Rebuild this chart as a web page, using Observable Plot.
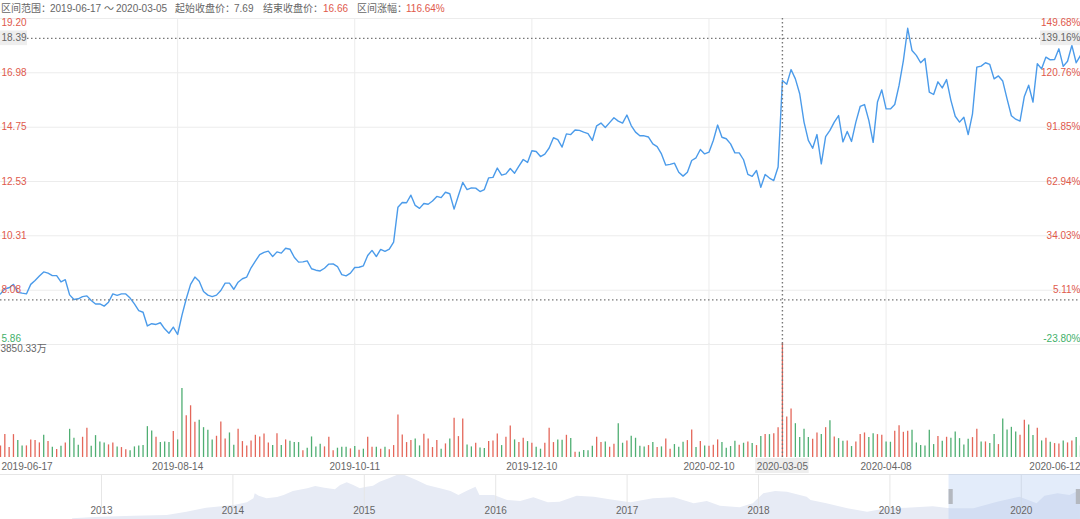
<!DOCTYPE html>
<html>
<head>
<meta charset="utf-8">
<script src="https://cdn.jsdelivr.net/npm/d3@7"></script>
<script src="https://cdn.jsdelivr.net/npm/@observablehq/plot@0.6"></script>
<style>
  html, body { margin: 0; padding: 0; background: #fff; }
  body { width: 1080px; height: 519px; overflow: hidden; position: relative;
         font-family: "Liberation Sans", "Noto Sans CJK SC", sans-serif; }
  .hd { position: absolute; top: 3px; font-size: 10px; line-height: 11px; color: #666; white-space: nowrap; }
  .hd.red { color: #e0594b; }
  .panel { position: absolute; left: 0; }
  .panel svg { display: block; background: transparent; overflow: visible; }
</style>
</head>
<body>
<span class="hd" style="left:1px">区间范围：</span>
<span class="hd" style="left:50px">2019-06-17</span>
<span class="hd" style="left:104px">～</span>
<span class="hd" style="left:116px">2020-03-05</span>
<span class="hd" style="left:175px">起始收盘价：</span>
<span class="hd" style="left:234px">7.69</span>
<span class="hd" style="left:263px">结束收盘价：</span>
<span class="hd red" style="left:323px">16.66</span>
<span class="hd" style="left:357px">区间涨幅：</span>
<span class="hd red" style="left:406px">116.64%</span>
<div id="price" class="panel" style="top:18px"></div>
<div id="volume" class="panel" style="top:342px"></div>
<div id="overview" class="panel" style="top:474px"></div>
<script>
const closePrices = [
7.93,8.14,8.18,8.32,8.00,7.96,7.93,8.32,8.48,8.66,
8.83,8.78,8.68,8.68,8.42,8.51,7.89,7.70,7.73,7.82,
7.85,7.66,7.52,7.52,7.43,7.59,7.93,7.87,7.93,7.93,
7.76,7.52,7.25,7.18,6.62,6.71,6.68,6.75,6.50,6.32,
6.57,6.27,7.05,7.73,8.32,8.62,8.45,8.03,7.88,7.82,
7.88,8.07,8.37,8.37,8.12,8.41,8.55,8.62,9.00,9.27,
9.54,9.63,9.68,9.46,9.65,9.60,9.80,9.76,9.43,9.23,
9.24,9.28,8.96,8.90,8.87,8.98,9.15,9.16,9.05,8.72,
8.67,8.78,9.01,9.02,9.08,9.50,9.71,9.46,9.75,9.67,
9.76,10.05,11.48,11.67,11.66,11.97,11.55,11.43,11.63,11.60,
11.73,11.92,11.87,12.09,12.03,11.40,11.96,12.49,12.20,12.27,
12.26,12.12,12.20,12.68,12.70,13.08,12.79,12.84,13.06,12.87,
13.16,13.43,13.31,13.79,13.76,13.55,13.65,13.90,14.32,14.24,
13.94,14.48,14.45,14.64,14.62,14.55,14.49,14.21,14.81,14.92,
14.74,14.94,15.14,15.00,14.92,15.25,14.82,14.55,14.40,14.40,
14.35,14.07,13.96,13.66,13.20,13.23,13.28,12.91,12.75,12.91,
13.39,13.50,13.84,13.66,13.73,14.21,14.84,14.34,14.28,14.07,
13.70,13.70,13.42,12.82,12.74,12.98,12.29,12.82,12.67,12.57,
13.12,16.66,16.51,17.11,16.73,16.12,14.96,14.21,13.89,14.45,
13.25,14.37,14.62,14.96,15.23,14.15,14.58,14.17,14.96,15.60,
15.68,15.03,14.13,15.78,16.28,15.50,15.50,15.68,16.46,17.48,
18.80,17.89,17.69,17.39,17.56,16.19,16.09,16.61,16.36,16.70,
15.85,15.20,14.96,15.16,14.45,15.30,17.21,17.25,17.39,17.32,
16.73,16.85,16.64,15.91,15.22,15.08,15.00,16.01,16.47,15.78,
17.35,17.14,17.62,17.51,17.52,17.96,17.24,17.45,18.10,17.39,
17.69];
const volumes = [
392,773,336,773,571,392,392,594,571,493,
750,538,347,269,381,493,952,650,414,683,
986,381,739,526,493,426,493,358,336,258,
224,358,392,403,1042,896,683,504,526,504,
874,594,2330,1411,1747,1187,1254,1008,918,594,
717,1198,627,829,414,952,538,392,560,750,
694,795,493,403,806,403,594,549,504,504,
224,314,694,358,448,358,683,224,314,347,
347,291,370,246,280,683,347,347,280,347,
258,403,1434,762,504,571,627,392,784,627,
336,571,280,459,627,1322,706,1299,426,358,
482,325,302,538,560,795,403,683,1064,594,
504,650,538,482,347,280,482,986,504,594,
582,750,638,179,179,235,224,381,683,504,
526,347,448,1142,482,560,717,650,381,358,
403,504,336,358,627,280,437,347,515,571,
930,336,538,392,381,414,594,504,314,370,
549,414,482,526,470,403,706,773,773,806,
1008,3850.33,1366,1635,1142,672,952,672,616,829,
773,1008,1243,694,638,549,560,370,526,773,
829,672,806,773,750,526,515,885,1075,851,
885,918,493,403,392,918,437,706,549,683,
650,862,638,426,616,672,952,526,526,470,
773,437,1299,930,1019,862,750,1254,1098,739,
986,560,650,515,470,459,560,493,560,672,
392];
const volumeDirs = (
"rrrrggrrrr"+"grgrgrgggr"+"rggggrrgrr"+"ggggggrggg"+"rggrrrgggg"+
"rrrggrrrrr"+"rrrgrgrggg"+"rggggrrrgg"+"grgr"+"gr"+
"rgrgrrrrrr"+"ggrrrrgrgr"+"rrggrggrrr"+"grrgrrgrgg"+"rrrggrgrgg"+
"ggrrgrrggr"+"ggggrgrgrr"+"gggrrgrgrrr"+
"ggggrgrgrg"+"rgrrrrrggg"+"grrgrgrggr"+"grrrggrrgg"+"rrrrgggggg"+
"rgrgggggrr"+"grggrggggr"+"rggrgrgrrg"+"rrgg").split("");

const priceTicks = [19.20,16.98,14.75,12.53,10.31,8.08,5.86];
const priceLabels = ["19.20","16.98","14.75","12.53","10.31","8.08","5.86"];
const pctLabels = ["149.68%","120.76%","91.85%","62.94%","34.03%","5.11%","-23.80%"];
const dateTickIndex = [0,41,82,123,164,181,205,250];
const dateTickLabels = ["2019-06-17","2019-08-14","2019-10-11","2019-12-10","2020-02-10","2020-03-05","2020-04-08","2020-06-12"];
const gridDateIndex = [41,82,123,164,205];
const crossIndex = 181;
const crossPrice = 18.39;
const crossPct = "139.16%";
const startPrice = 7.69;
const maxVolumeLabel = "3850.33万";
const maxVolume = 3850.33;

const overviewYears = [2012.78,2012.99,2013.25,2013.50,2013.65,2013.80,2014.01,2014.11,2014.16,2014.17,2014.20,2014.26,2014.34,2014.39,2014.46,2014.57,2014.63,2014.70,2014.78,2014.82,2014.87,2014.92,2014.97,2015.01,2015.07,2015.12,2015.20,2015.25,2015.31,2015.40,2015.48,2015.58,2015.66,2015.72,2015.78,2015.85,2015.88,2015.99,2016.09,2016.19,2016.29,2016.40,2016.49,2016.62,2016.75,2016.87,2017.03,2017.20,2017.36,2017.51,2017.61,2017.71,2017.86,2017.96,2018.04,2018.13,2018.22,2018.37,2018.40,2018.52,2018.68,2018.83,2018.98,2019.13,2019.33,2019.46,2019.64,2019.82,2019.99,2020.12,2020.18,2020.28,2020.37,2020.45];
const overviewValues = [0.7,2.3,3.3,4,7.3,11.3,14,16.7,20.7,25.7,23.3,20.7,22,24,28,30.7,33,31.3,29.7,34,36.7,34,30.7,32,33.3,37.3,41.3,44,44,39,34,30.7,28,24,28,32.3,24,24,19,18,21.7,16.7,17.3,23.3,22.3,19.7,16.7,20.7,21.7,15.7,18,13.3,11.7,15.7,25.7,28,27.3,22.3,19,15.7,10.7,7.3,10.7,11.3,12.7,10.7,10.7,17.3,22.3,15.7,23.3,25.7,24,29];
const overviewTickYears = [2013,2014,2015,2016,2017,2018,2019,2020];
const selectionYears = [2019.45,2020.4505];

const RED = "#e0594b", GREEN = "#3fb06a", TEXT = "#666", GRID = "#ececec", DOT = "#777777";
const DASH = "1.5 2.5";
const FONT = `"Liberation Sans", "Noto Sans CJK SC", sans-serif`;
const W = 1080;
const base = {width: W, marginLeft: 0, marginRight: 0, marginTop: 0, marginBottom: 0,
  style: {background: "transparent", fontFamily: FONT, fontSize: "10px"}};
const xIndex = {domain: [0, 250], range: [0, W], axis: null};

const priceRows = closePrices.map((p, i) => ({i, p}));
const midTicks = priceTicks.map((p, k) => ({p, k})).slice(1, -1);
const topTick = [{p: priceTicks[0], k: 0}];
const lowTick = [{p: priceTicks[priceTicks.length - 1], k: priceTicks.length - 1}];
const labelMark = (rows, color, dy) => [
  Plot.text(rows, {y: "p", text: d => priceLabels[d.k], frameAnchor: "left", textAnchor: "start", dx: 1, dy, fill: color, fontSize: 10}),
  Plot.text(rows, {y: "p", text: d => pctLabels[d.k], frameAnchor: "right", textAnchor: "end", dx: 0, dy, fill: color, fontSize: 10})
];

document.getElementById("price").append(Plot.plot({
  ...base, height: 327,
  x: xIndex,
  y: {domain: [priceTicks[6], priceTicks[0]], range: [326, 0], axis: null},
  marks: [
    Plot.ruleY(priceTicks, {stroke: GRID, strokeWidth: 1}),
    Plot.ruleX(gridDateIndex, {stroke: GRID, strokeWidth: 1}),
    Plot.lineY(priceRows, {x: "i", y: "p", stroke: "#4b9bea", strokeWidth: 1.4, curve: "linear"}),
    Plot.ruleY([startPrice], {stroke: DOT, strokeWidth: 1.2, strokeDasharray: DASH}),
    Plot.ruleY([crossPrice], {stroke: DOT, strokeWidth: 1.2, strokeDasharray: DASH, insetRight: 40, insetLeft: 27}),
    Plot.ruleX([crossIndex], {stroke: DOT, strokeWidth: 1.4, strokeDasharray: DASH}),
    Plot.barY([crossPrice], {y1: d => d - 0.3, y2: d => d + 0.3, fill: "#eeeeee", insetRight: 1053}),
    Plot.barY([crossPrice], {y1: d => d - 0.3, y2: d => d + 0.3, fill: "#eeeeee", insetLeft: 1040}),
    Plot.text([crossPrice], {y: d => d, text: d => d.toFixed(2), frameAnchor: "left", textAnchor: "start", dx: 1, fill: TEXT, fontSize: 10}),
    Plot.text([crossPrice], {y: d => d, text: () => crossPct, frameAnchor: "right", textAnchor: "end", fill: TEXT, fontSize: 10}),
    ...labelMark(topTick, RED, 4),
    ...labelMark(midTicks, RED, 0),
    ...labelMark(lowTick, GREEN, -6)
  ]
}));

const volumeRows = volumes.map((v, i) => ({i, v, d: volumeDirs[i]}));
const dateRows = dateTickIndex.map((i, k) => ({i, label: dateTickLabels[k]}));
document.getElementById("volume").append(Plot.plot({
  ...base, height: 132,
  x: xIndex,
  y: {domain: [0, maxVolume], range: [115, 1], axis: null},
  color: {domain: ["r", "g"], range: ["#e4675a", "#4fae72"]},
  marks: [
    Plot.ruleX(gridDateIndex, {y1: 0, y2: maxVolume, stroke: GRID, strokeWidth: 1}),
    Plot.ruleX(volumeRows, {x: "i", y1: 0, y2: "v", stroke: "d", strokeWidth: 1.3}),
    Plot.ruleX([crossIndex], {y1: 0, y2: maxVolume, stroke: DOT, strokeWidth: 1.4, strokeDasharray: DASH}),
    Plot.barX([crossIndex], {x1: d => d - 6.2, x2: d => d + 6.2, fill: "#eeeeee", insetTop: 116, insetBottom: 1}),
    Plot.text(dateRows.slice(0, 1), {x: "i", text: "label", frameAnchor: "bottom", dy: -5, textAnchor: "start", dx: 1, fill: TEXT, fontSize: 10}),
    Plot.text(dateRows.slice(1, -1), {x: "i", text: "label", frameAnchor: "bottom", dy: -5, textAnchor: "middle", fill: TEXT, fontSize: 10}),
    Plot.text(dateRows.slice(-1), {x: "i", text: "label", frameAnchor: "bottom", dy: -5, textAnchor: "end", fill: TEXT, fontSize: 10}),
    Plot.text([maxVolume], {y: d => d, text: () => maxVolumeLabel, frameAnchor: "left", textAnchor: "start", dx: 0, dy: 5.5, fill: TEXT, fontSize: 10})
  ]
}));

const overviewRows = overviewYears.map((year, k) => ({year, value: overviewValues[k]}));
document.getElementById("overview").append(Plot.plot({
  ...base, height: 45,
  x: {domain: [2012.2313, 2020.4505], range: [0, W], axis: null},
  y: {domain: [0, 45], range: [45, 0], axis: null},
  marks: [
    Plot.areaY(overviewRows, {x: "year", y: "value", fill: "#e7ebf5", curve: "linear"}),
    Plot.ruleX(overviewTickYears, {y1: 11, y2: 45, stroke: "#e6e6e6", strokeWidth: 1}),
    Plot.ruleY([45], {stroke: "#e6e6e6", strokeWidth: 1}),
    Plot.barX([selectionYears], {x1: d => d[0], x2: d => d[1], fill: "#a8c5f0", fillOpacity: 0.32}),
    Plot.barX([selectionYears], {x1: d => d[0], x2: d => d[0] + 0.032, fill: "#b4b8bf", insetTop: 15, insetBottom: 15}),
    Plot.barX([selectionYears], {x1: d => d[1] - 0.032, x2: d => d[1], fill: "#b4b8bf", insetTop: 15, insetBottom: 15}),
    Plot.text(overviewTickYears, {x: d => d, text: d => String(d), frameAnchor: "bottom", dy: -6, fill: TEXT, fontSize: 10})
  ]
}));
</script>
</body>
</html>
